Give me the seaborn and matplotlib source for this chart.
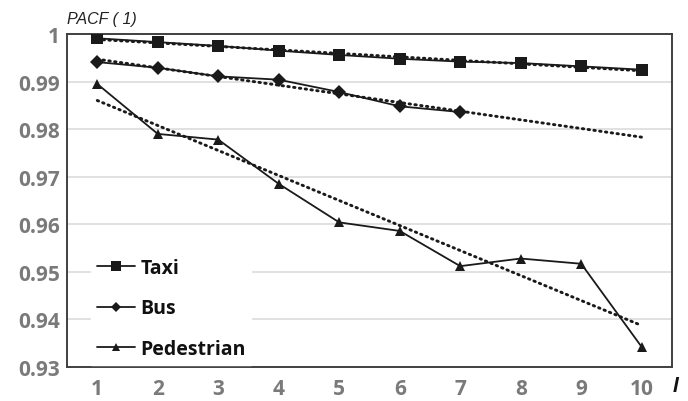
import numpy as np
import pandas as pd
import matplotlib
matplotlib.use("Agg")
import matplotlib.pyplot as plt
from matplotlib.lines import Line2D
import seaborn as sns

# PACF(1) values for increasing lag l
lags = [1, 2, 3, 4, 5, 6, 7, 8, 9, 10]
taxi = [0.9991, 0.9983, 0.9975, 0.9965, 0.9956, 0.9948, 0.9942, 0.9939, 0.9932, 0.9925]
bus_lags = [1, 2, 3, 4, 5, 6, 7]
bus = [0.9941, 0.9929, 0.9911, 0.9904, 0.9878, 0.9848, 0.9836]
pedestrian = [0.9895, 0.9790, 0.9778, 0.9685, 0.9604, 0.9586, 0.9512, 0.9528, 0.9517, 0.9342]

series_names = ["Taxi", "Bus", "Pedestrian"]
y_ticks = [0.93, 0.94, 0.95, 0.96, 0.97, 0.98, 0.99, 1.00]
y_tick_labels = ["0.93", "0.94", "0.95", "0.96", "0.97", "0.98", "0.99", "1"]

df = pd.concat([
    pd.DataFrame({"lag": lags, "pacf": taxi, "mode": "Taxi"}),
    pd.DataFrame({"lag": bus_lags, "pacf": bus, "mode": "Bus"}),
    pd.DataFrame({"lag": lags, "pacf": pedestrian, "mode": "Pedestrian"}),
], ignore_index=True)

sns.set_theme(style="white")
plt.rcParams["font.family"] = ["Open Sans", "DejaVu Sans"]

fig = plt.figure(figsize=(6.88, 4.02), dpi=100)
ax = fig.add_axes([0.0974, 0.0846, 0.8793, 0.8283])

# linear trend lines (dotted), fitted per series and drawn across all lags
trend_x = np.array(lags, dtype=float)
for xs, ys in [(lags, taxi), (bus_lags, bus), (lags, pedestrian)]:
    k, b = np.polyfit(xs, ys, 1)
    ax.plot(trend_x, k * trend_x + b, color="#1a1a1a", lw=2.1,
            linestyle=(0, (0.5, 1.5)), dash_capstyle="round", zorder=3)

markers = {"Taxi": "s", "Bus": "D", "Pedestrian": "^"}
sizes = {"Taxi": 8, "Bus": 7, "Pedestrian": 7.5}
for name in series_names:
    sub = df[df["mode"] == name]
    sns.lineplot(data=sub, x="lag", y="pacf", ax=ax, color="#1a1a1a", lw=1.3,
                 marker=markers[name], markersize=sizes[name],
                 markeredgewidth=0, legend=False, zorder=4)

ax.set_xlim(0.5, 10.5)
ax.set_ylim(0.93, 1.0)
ax.set_xticks(lags)
ax.set_xticklabels([str(v) for v in lags])
ax.set_yticks(y_ticks)
ax.set_yticklabels(y_tick_labels)
ax.set_xlabel("")
ax.set_ylabel("")
ax.grid(axis="y", color="#d9d9d9", lw=1.1)
ax.set_axisbelow(True)
ax.tick_params(axis="both", length=0, labelsize=15, labelcolor="#7a7a7a")
ax.tick_params(axis="x", pad=8)
ax.tick_params(axis="y", pad=5)
for lab in ax.get_xticklabels() + ax.get_yticklabels():
    lab.set_fontweight("bold")
for sp in ax.spines.values():
    sp.set_color("#404040")
    sp.set_linewidth(1.4)

fig.text(0.0974, 0.940, "PACF ( 1)", fontsize=11.5, style="italic",
         family=["Liberation Sans", "DejaVu Sans"], color="#222222",
         ha="left", va="baseline")
fig.text(0.978, 0.025, "l", fontsize=15, style="italic", fontweight="bold",
         family=["Liberation Sans", "DejaVu Sans"], color="#111111",
         ha="left", va="baseline")

handles = [Line2D([], [], color="#1a1a1a", lw=1.3, marker=markers[n],
                  markersize=sizes[n] - 1.5, markeredgewidth=0)
           for n in series_names]
leg = ax.legend(handles, series_names, loc="lower left",
                bbox_to_anchor=(0.040, 0.007), borderaxespad=0,
                frameon=True, framealpha=1,
                edgecolor="white", facecolor="white", fancybox=False,
                handlelength=1.96, handletextpad=0.26, labelspacing=1.05,
                borderpad=0.3, prop={"size": 14, "weight": "bold"})
leg.set_zorder(5)
for t in leg.get_texts():
    t.set_color("#111111")

fig.savefig("out.png", dpi=100)
